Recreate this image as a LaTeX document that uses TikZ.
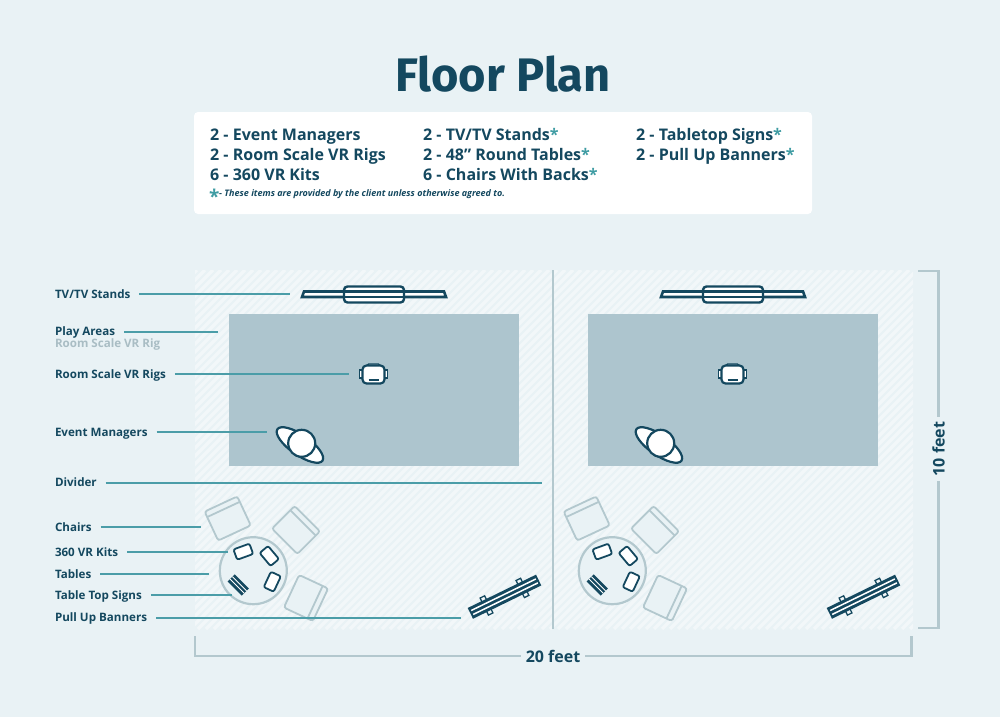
\documentclass[tikz,border=0pt]{standalone}
\usepackage{fontspec}
\setmainfont{Open Sans}
\newfontfamily\titlefont{Fira Sans}
\definecolor{pagebg}{HTML}{E9F2F5}
\definecolor{hatchc}{HTML}{F2F7F9}
\definecolor{navyc}{HTML}{14485F}
\definecolor{tealc}{HTML}{4B9DA8}
\definecolor{starc}{HTML}{3F9CA3}
\definecolor{playc}{HTML}{ADC5CE}
\definecolor{greyc}{HTML}{B3C8CE}
\definecolor{faintc}{HTML}{A9BDC4}
\newcommand{\itemstar}{\textcolor{starc}{*}}
\tikzset{
  listtext/.style={anchor=west, inner sep=0, text height=12, text depth=4, font=\fontsize{16}{16}\selectfont\bfseries, text=navyc},
  keytext/.style={anchor=west, inner sep=0, outer xsep=9, text height=10, text depth=2, font=\fontsize{11.6}{11.6}\selectfont\bfseries, text=navyc},
  dimtext/.style={inner sep=5, fill=pagebg, font=\fontsize{16}{16}\selectfont\bfseries, text=navyc},
  leader/.style={tealc, line width=2},
  dimline/.style={greyc, line width=2.4},
  darkline/.style={navyc, line width=2.2, fill=white},
  chairline/.style={greyc, line width=1.8, fill=pagebg, rounded corners=2.5},
  chairpic/.pic={
    \draw[chairline] (-18,-16) rectangle (18,16);
    \draw[greyc, line width=1.8] (-18,-10) -- (18,-10);
  },
  kitpic/.pic={
    \draw[navyc, line width=1.8, fill=white, rounded corners=2] (-8.5,-5.5) rectangle (8.5,5.5);
  },
  signpic/.pic={
    \fill[navyc] (-10,-5) rectangle (10,5);
    \draw[white, line width=0.9] (-10,-1.7) -- (10,-1.7);
    \draw[white, line width=0.9] (-10,1.7) -- (10,1.7);
  },
  bannerpic/.pic={
    \foreach \fx in {-20,20} {
      \draw[navyc, line width=1.3, fill=hatchc] (\fx-2.5,-9.5) rectangle (\fx+2.5,9.5);
    }
    \fill[navyc] (-38,-6) rectangle (38,6);
    \draw[white, line width=1.5] (-36,-2.2) -- (36,-2.2);
    \draw[white, line width=1.5] (-36,2.2) -- (36,2.2);
  },
  rigpic/.pic={
    \draw[darkline, line width=1.4] (-14,-4) rectangle (-10,4);
    \draw[darkline, line width=1.4] (10,-4) rectangle (14,4);
    \draw[darkline, line width=1.4] (-7,-8) -- (-5,-10) -- (5,-10) -- (7,-8);
    \draw[darkline, rounded corners=4] (-11,-8.5) rectangle (11,9.5);
    \draw[navyc, line width=1.4] (-5,6) -- (5,6);
  },
  personpic/.pic={
    \draw[darkline, rotate=-35] (-0.5,2.4) ellipse [x radius=27.5, y radius=10];
    \draw[darkline] (0,0) circle [radius=13.5];
  }
}
\begin{document}
\begin{tikzpicture}[x=1pt, y=-1pt]
\useasboundingbox (0,0) rectangle (1000,717);
\fill[pagebg] (0,0) rectangle (1000,717);

\node[font=\titlefont\fontsize{47}{47}\selectfont\bfseries, text=navyc, inner sep=0] (floorTitle) at (503,74) {Floor Plan};

\fill[white, rounded corners=4] (194,112) rectangle (812,214);
\node[listtext] (itemManagers) at (210,136.7) {2 - Event Managers};
\node[listtext] (itemRigs) at (210,156.7) {2 - Room Scale VR Rigs};
\node[listtext] (itemKits) at (210,176) {6 - 360 VR Kits};
\node[listtext] (itemTvs) at (423,136.7) {2 - TV/TV Stands\itemstar};
\node[listtext] (itemTables) at (423,156.7) {2 - 48” Round Tables\itemstar};
\node[listtext] (itemChairs) at (423,176) {6 - Chairs With Backs\itemstar};
\node[listtext] (itemSigns) at (636,136.7) {2 - Tabletop Signs\itemstar};
\node[listtext] (itemBanners) at (636,156.7) {2 - Pull Up Banners\itemstar};
\node[anchor=west, inner sep=0, text=starc, font=\fontsize{19}{19}\selectfont\bfseries] (noteStar) at (209,196) {*};
\node[anchor=west, inner sep=0, text=navyc, font=\fontsize{9}{9}\selectfont\bfseries\itshape] (noteText) at (219,194) {- These items are provided by the client unless otherwise agreed to.};

\begin{scope}
\clip (195,270) rectangle (913,629);
\foreach \hx in {-170,-162,...,915} {
  \draw[hatchc, line width=3.5] (\hx,629) -- (\hx+359,270);
}
\end{scope}

\draw[greyc, line width=2] (553,270) -- (553,629);

\foreach \dx in {0,359} {
\begin{scope}[xshift=\dx]
\fill[playc] (228.5,314) rectangle (519,466);
\draw[navyc, line width=2.6, fill=white] (304,291.5) -- (444,291.5) -- (446,297) -- (302,297) -- cycle;
\draw[navyc, line width=2.4, fill=white, rounded corners=3.5] (344,286.5) rectangle (404,302.5);
\draw[navyc, line width=2.6] (344,291.5) -- (404,291.5);
\draw[navyc, line width=2.6] (344,297) -- (404,297);
\pic at (373.5,374) {rigpic};
\pic at (301.7,443.3) {personpic};
\pic[rotate=25] at (227.7,518.5) {chairpic};
\pic[rotate=-45] at (296,530) {chairpic};
\pic[rotate=-115] at (306,598) {chairpic};
\draw[greyc, line width=2.2, fill=pagebg] (253.3,570.7) circle [radius=33.5];
\pic[rotate=20] at (243.3,551.7) {kitpic};
\pic[rotate=-50] at (269.3,556) {kitpic};
\pic[rotate=65] at (272.3,581.7) {kitpic};
\pic[rotate=-45] at (238.3,585) {signpic};
\pic[rotate=26] at (504.5,596.7) {bannerpic};
\end{scope}
}

\node[keytext] (keyTv) at (46,294) {TV/TV Stands};
\node[keytext] (keyPlay) at (46,331.5) {Play Areas};
\node[keytext, text=faintc] (keyPlaySub) at (46,343.5) {Room Scale VR Rig};
\node[keytext] (keyRig) at (46,374) {Room Scale VR Rigs};
\node[keytext] (keyManager) at (46,432) {Event Managers};
\node[keytext] (keyDivider) at (46,482.5) {Divider};
\node[keytext] (keyChair) at (46,527) {Chairs};
\node[keytext] (keyKit) at (46,552) {360 VR Kits};
\node[keytext] (keyTable) at (46,574) {Tables};
\node[keytext] (keySign) at (46,595) {Table Top Signs};
\node[keytext] (keyBanner) at (46,617.5) {Pull Up Banners};

\coordinate (tvEnd) at (290,294);
\coordinate (playEnd) at (218,331.5);
\coordinate (rigEnd) at (349,374);
\coordinate (managerEnd) at (267,432);
\coordinate (dividerEnd) at (542,482.5);
\coordinate (chairEnd) at (201,527);
\coordinate (kitEnd) at (228,552);
\coordinate (tableEnd) at (209,574);
\coordinate (signEnd) at (232,595);
\coordinate (bannerEnd) at (461,617.5);
\draw[leader] (keyTv.east) -- (tvEnd);
\draw[leader] (keyPlay.east) -- (playEnd);
\draw[leader] (keyRig.east) -- (rigEnd);
\draw[leader] (keyManager.east) -- (managerEnd);
\draw[leader] (keyDivider.east) -- (dividerEnd);
\draw[leader] (keyChair.east) -- (chairEnd);
\draw[leader] (keyKit.east) -- (kitEnd);
\draw[leader] (keyTable.east) -- (tableEnd);
\draw[leader] (keySign.east) -- (signEnd);
\draw[leader] (keyBanner.east) -- (bannerEnd);

\draw[dimline] (918,271) -- (938.5,271) -- (938.5,628) -- (918,628);
\draw[dimline] (195,636) -- (195,656) -- (911.5,656) -- (911.5,636);
\node[dimtext, rotate=90] (dimHeight) at (938.5,449) {10 feet};
\node[dimtext] (dimWidth) at (553,656) {20 feet};
\end{tikzpicture}
\end{document}
